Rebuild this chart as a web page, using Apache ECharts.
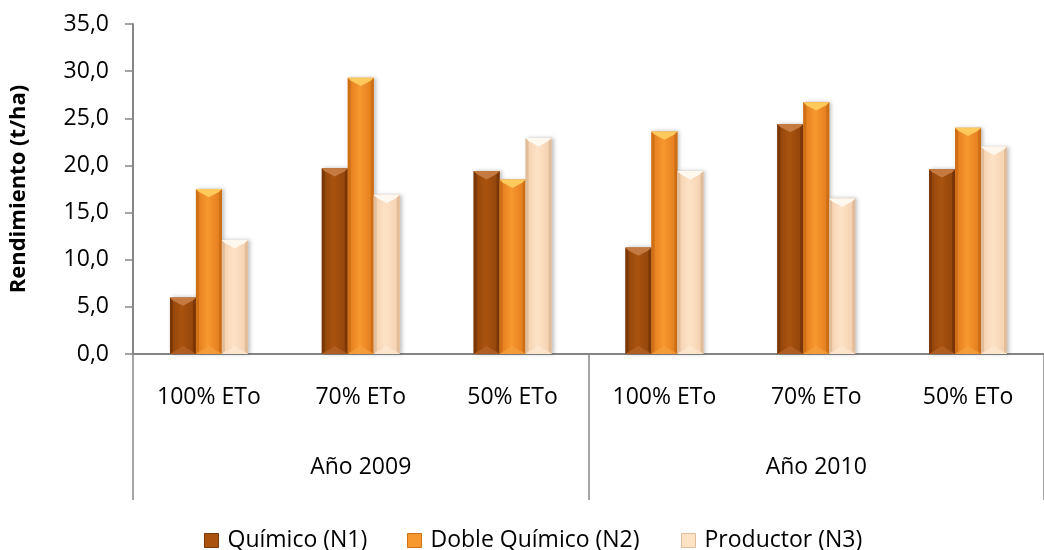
<!DOCTYPE html>
<html>
<head>
<meta charset="utf-8">
<script src="https://cdn.jsdelivr.net/npm/echarts@6/dist/echarts.min.js"></script>
<style>
  html, body { margin: 0; padding: 0; background: #ffffff; }
  #chart { width: 1044px; height: 550px; }
</style>
</head>
<body>
<div id="chart"></div>
<script>
// Yield per irrigation level and year
const categories = ['100% ETo', '70% ETo', '50% ETo', '100% ETo', '70% ETo', '50% ETo'];
const years = ['Año 2009', 'Año 2010'];
const seriesNames = ['Químico (N1)', 'Doble Químico (N2)', 'Productor (N3)'];
const quimico = [6.0, 19.7, 19.4, 11.3, 24.4, 19.6];
const dobleQuimico = [17.5, 29.3, 18.5, 23.6, 26.7, 24.0];
const productor = [12.1, 16.9, 22.9, 19.4, 16.5, 22.0];
const yTicks = { min: 0, max: 35, interval: 5 };

const FONT = 'Open Sans';
const FONT_SIZE = 23;
const AXIS_GREY = '#868686';

// bevelled bar palettes: body edge / body centre / side strips / top facet / bottom facet
const palettes = [
  { edge: '#8f430b', mid: '#a9530f', side: '#7a3707', top: '#c47a40', bottom: '#b5642a' },
  { edge: '#e07a1c', mid: '#f7982f', side: '#cf6f16', top: '#ffc95c', bottom: '#f5a040' },
  { edge: '#f3cfae', mid: '#fee2c6', side: '#e2bd9b', top: '#fff8ee', bottom: '#fde8d3' }
];

function bevelBar(k) {
  const p = palettes[k];
  return function (params, api) {
    const ci = api.value(0);
    const v = api.value(1);
    const base = api.coord([ci, 0]);
    const topPt = api.coord([ci, v]);
    const cw = api.size([1, 0])[0];
    const bw = cw * 0.171;
    const x0 = base[0] + (k - 1.5) * bw;
    const x1 = x0 + bw;
    const xc = (x0 + x1) / 2;
    const y0 = topPt[1];
    const y1 = base[1];
    const h = y1 - y0;
    const b = Math.min(3, h / 4);
    const t = Math.min(bw * 0.32, h / 2);
    return {
      type: 'group',
      children: [
        {
          type: 'rect',
          shape: { x: x0, y: y0, width: bw, height: h },
          style: {
            fill: new echarts.graphic.LinearGradient(0, 0, 1, 0, [
              { offset: 0, color: p.edge },
              { offset: 0.45, color: p.mid },
              { offset: 1, color: p.edge }
            ]),
            shadowBlur: 4,
            shadowOffsetX: 2,
            shadowColor: 'rgba(0,0,0,0.25)'
          }
        },
        {
          type: 'polygon',
          shape: { points: [[x0, y0], [x0 + b, y0 + b], [x0 + b, y1 - b], [x0, y1]] },
          style: { fill: p.side }
        },
        {
          type: 'polygon',
          shape: { points: [[x1, y0], [x1 - b, y0 + b], [x1 - b, y1 - b], [x1, y1]] },
          style: { fill: p.side }
        },
        {
          type: 'polygon',
          shape: { points: [[x0, y1], [x1, y1], [xc, y1 - t]] },
          style: { fill: p.bottom, opacity: 0.7 }
        },
        {
          type: 'polygon',
          shape: { points: [[x0, y0], [x1, y0], [x1 - b, y0 + b], [xc, y0 + t], [x0 + b, y0 + b]] },
          style: { fill: p.top }
        }
      ]
    };
  };
}

const dataSets = [quimico, dobleQuimico, productor];

const series = dataSets.map(function (vals, k) {
  return {
    name: seriesNames[k],
    type: 'custom',
    xAxisIndex: 0,
    yAxisIndex: 0,
    renderItem: bevelBar(k),
    itemStyle: { color: palettes[k].mid },
    encode: { x: 0, y: 1 },
    data: vals.map(function (v, i) { return [i, v]; })
  };
});

const legendLefts = [204, 407, 681];
const legends = seriesNames.map(function (name, k) {
  return {
    data: [{ name: name, icon: 'rect', itemStyle: { color: palettes[k].mid, borderColor: palettes[k].side, borderWidth: 1 } }],
    left: legendLefts[k],
    top: 529,
    padding: 0,
    itemWidth: 14,
    itemHeight: 14,
    selectedMode: false,
    textStyle: { fontFamily: FONT, fontSize: FONT_SIZE, color: '#000', padding: [0, 0, 0, 4] }
  };
});

const chart = echarts.init(document.getElementById('chart'), null, { renderer: 'canvas' });
chart.setOption({
  backgroundColor: '#ffffff',
  animation: false,
  grid: { left: 130, right: -14, top: 24, bottom: 196, containLabel: false },
  legend: legends,
  xAxis: [
    {
      type: 'category',
      data: categories,
      position: 'bottom',
      axisLine: { show: true, lineStyle: { color: AXIS_GREY, width: 2 } },
      axisTick: { show: false },
      axisLabel: { margin: 32, fontFamily: FONT, fontSize: FONT_SIZE, color: '#000', interval: 0 },
      splitLine: { show: false }
    },
    {
      type: 'category',
      data: years,
      position: 'bottom',
      axisLine: { show: false },
      axisTick: { show: true, length: 146, interval: 0, lineStyle: { color: AXIS_GREY, width: 1.5 } },
      axisLabel: { margin: 102, fontFamily: FONT, fontSize: FONT_SIZE, color: '#000', interval: 0 },
      splitLine: { show: false }
    }
  ],
  yAxis: {
    type: 'value',
    min: yTicks.min,
    max: yTicks.max,
    interval: yTicks.interval,
    name: 'Rendimiento (t/ha)',
    nameLocation: 'middle',
    nameGap: 103,
    nameTextStyle: { fontFamily: FONT, fontSize: 22, fontWeight: 'bold', color: '#000' },
    axisLine: { show: true, lineStyle: { color: AXIS_GREY, width: 2 } },
    axisTick: { show: true, length: 8, lineStyle: { color: AXIS_GREY, width: 1.5 } },
    axisLabel: {
      margin: 24,
      fontFamily: FONT,
      fontSize: FONT_SIZE,
      color: '#000',
      formatter: function (v) { return v.toFixed(1).replace('.', ','); }
    },
    splitLine: { show: false }
  },
  series: series
});
</script>
</body>
</html>
